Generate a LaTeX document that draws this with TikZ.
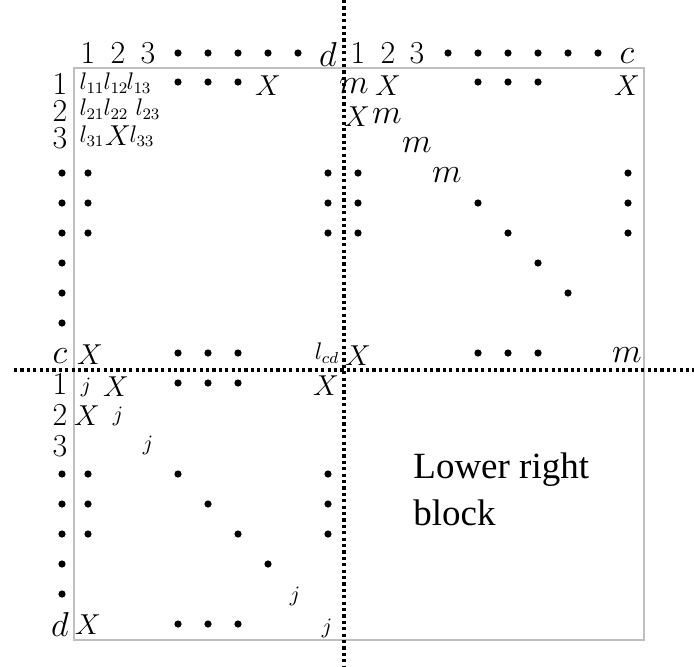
\documentclass[tikz,border=0pt]{standalone}
\usepackage{fontspec}
\newfontfamily\timesfont{Liberation Serif}
\begin{document}
\begin{tikzpicture}[x=0.5pt,y=-0.5pt,
  every node/.style={inner sep=0pt, anchor=center},
  digit/.style={font=\fontsize{16}{16}\selectfont},
  idx/.style={font=\fontsize{16}{16}\selectfont},
  xent/.style={font=\fontsize{14}{14}\selectfont},
  ment/.style={font=\fontsize{16}{16}\selectfont},
  lent/.style={font=\fontsize{11.5}{11.5}\selectfont},
  jent/.style={font=\fontsize{10.5}{10.5}\selectfont},
  blocktext/.style={font=\timesfont\fontsize{18.5}{23.5}\selectfont, anchor=base west},
  grid/.style={draw=black!25, line width=0.65pt},
  sep/.style={line width=1.6pt, dash pattern=on 1.55pt off 1.65pt}]
\useasboundingbox (0,0) rectangle (694,666);
% outer frame
\draw[grid] (74,68) rectangle (644,640);
% separators
\coordinate (vt) at (344,0); \coordinate (vb) at (344,666);
\coordinate (hl) at (14,370); \coordinate (hr) at (694,370);
\draw[sep] (vt) -- (vb);
\draw[sep] (hl) -- (hr);
% bullets
\newcommand{\bul}[2]{\fill (#1,#2) circle (1.8pt);}
\foreach \x in {178,208,238,268,298} {\bul{\x}{53}}
\foreach \x in {448,478,508,538,568,598} {\bul{\x}{53}}
\foreach \y in {173,203,233,263,293,323} {\bul{62}{\y}}
\foreach \y in {474,504,534,564,594} {\bul{62}{\y}}
\foreach \x in {178,208,238} {\bul{\x}{82} \bul{\x}{353} \bul{\x}{383} \bul{\x}{624}}
\foreach \y in {173,203,233} {\bul{88}{\y} \bul{328}{\y} \bul{358}{\y} \bul{628}{\y}}
\foreach \x in {478,508,538} {\bul{\x}{82} \bul{\x}{353}}
\bul{478}{203} \bul{508}{233} \bul{538}{263} \bul{568}{293}
\foreach \y in {474,504,534} {\bul{88}{\y} \bul{328}{\y}}
\bul{178}{474} \bul{208}{504} \bul{238}{534} \bul{268}{564}
% column headers
\node[digit] (h1) at (88,53) {1};
\node[digit] (h2) at (118,53) {2};
\node[digit] (h3) at (148,53) {3};
\node[idx] (hd) at (328,54) {$d$};
\node[digit] (r1) at (358,53) {1};
\node[digit] (r2) at (388,53) {2};
\node[digit] (r3) at (417,53) {3};
\node[idx] (rc) at (627,56) {$c$};
% row headers
\node[digit] (v1) at (60,84) {1};
\node[digit] (v2) at (60,111) {2};
\node[digit] (v3) at (60,138) {3};
\node[idx] (vc) at (60,356) {$c$};
\node[digit] (w1) at (60,384) {1};
\node[digit] (w2) at (60,415) {2};
\node[digit] (w3) at (60,446) {3};
\node[idx] (wd) at (60,624) {$d$};
% upper-left block
\node[lent] (l11) at (92,83) {$l_{11}$};
\node[lent] (l12) at (116,83) {$l_{12}$};
\node[lent] (l13) at (139,83) {$l_{13}$};
\node[xent] (x1d) at (268,86) {$X$};
\node[lent] (l21) at (92,109) {$l_{21}$};
\node[lent] (l22) at (116,109) {$l_{22}$};
\node[lent] (l23) at (148,109) {$l_{23}$};
\node[lent] (l31) at (92,136) {$l_{31}$};
\node[xent] (x32) at (118,136) {$X$};
\node[lent] (l33) at (142,136) {$l_{33}$};
\node[xent] (xc1) at (90,355) {$X$};
\node[lent] (lcd) at (327,353) {$l_{cd}$};
% upper-right block
\node[ment] (m11) at (354,86) {$m$};
\node[xent] (y12) at (388,86) {$X$};
\node[xent] (y1c) at (627,86) {$X$};
\node[xent] (y21) at (357,117) {$X$};
\node[ment] (m22) at (387,116) {$m$};
\node[ment] (m33) at (417,145) {$m$};
\node[ment] (m44) at (447,175) {$m$};
\node[xent] (yc1) at (358,356) {$X$};
\node[ment] (mcc) at (627,355) {$m$};
% lower-left block
\node[jent] (j11) at (86,387) {$j$};
\node[xent] (z12) at (116,387) {$X$};
\node[xent] (z1c) at (326,386) {$X$};
\node[xent] (z21) at (87,416) {$X$};
\node[jent] (j22) at (118,416) {$j$};
\node[jent] (j33) at (148,445) {$j$};
\node[jent] (j88) at (295,596) {$j$};
\node[xent] (zd1) at (88,625) {$X$};
\node[jent] (jdd) at (327,628) {$j$};
% lower-right block
\node[blocktext] (lr1) at (413,478) {Lower right};
\node[blocktext] (lr2) at (413,525) {block};
\end{tikzpicture}
\end{document}
